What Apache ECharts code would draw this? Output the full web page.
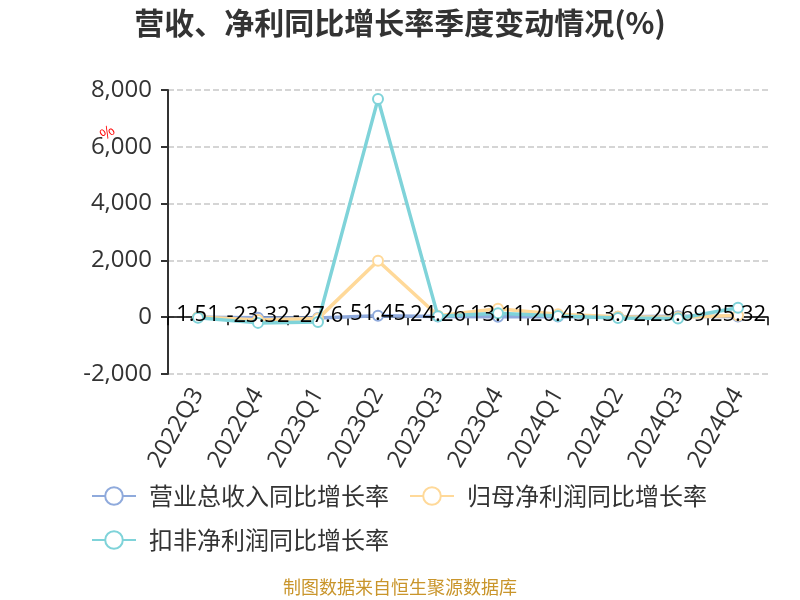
<!DOCTYPE html>
<html><head><meta charset="utf-8">
<script src="https://cdn.jsdelivr.net/npm/echarts@6/dist/echarts.min.js"></script>
<style>html,body{margin:0;padding:0;background:#fff}#c{width:800px;height:600px}</style>
</head><body><div id="c"></div>
<script>
const categories = ['2022Q3','2022Q4','2023Q1','2023Q2','2023Q3','2023Q4','2024Q1','2024Q2','2024Q3','2024Q4'];
const revenueGrowth = [1.51,-23.32,-27.6,51.45,24.26,13.11,20.43,13.72,29.69,25.32];
const netProfitGrowth = [10,-100,-50,1990,50,300,100,20,0,60];
const deductedProfitGrowth = [-20,-200,-165,7680,30,140,45,-25,-45,330];
const seriesNames = ['营业总收入同比增长率','归母净利润同比增长率','扣非净利润同比增长率'];
const yTicks = {min:-2000,max:8000,interval:2000};

const colors = ['#8FAADC','#FFD999','#7FD3D9'];
const font = '"Noto Sans CJK SC","Noto Sans",sans-serif';
const chart = echarts.init(document.getElementById('c'));
function mk(name, data, i, z){
  return {
    name, type:'line', data, symbol:'emptyCircle', symbolSize:10,
    lineStyle:{width:3.5,color:colors[i]}, itemStyle:{color:colors[i],borderWidth:2.5},
    label:{show:false}, z
  };
}
chart.setOption({
  animation:false,
  textStyle:{fontFamily:font},
  title:{text:'营收、净利同比增长率季度变动情况(%)',left:'center',top:3,
    textStyle:{fontSize:30,fontWeight:'bold',color:'#333',fontFamily:font}},
  grid:{left:168,right:32,top:90,bottom:226,containLabel:false},
  xAxis:{type:'category',data:categories,boundaryGap:true,
    axisLine:{onZero:true,lineStyle:{color:'#000',width:1.5}},
    axisTick:{show:true,alignWithLabel:false,lineStyle:{color:'#000',width:1.5},length:8},
    axisLabel:{rotate:60,fontSize:24,color:'#333',margin:16,interval:0,fontFamily:'"Open Sans",sans-serif'}},
  yAxis:{type:'value',min:yTicks.min,max:yTicks.max,interval:yTicks.interval,
    axisLine:{show:true,lineStyle:{color:'#333',width:2}},
    axisTick:{show:true,lineStyle:{color:'#333',width:2},length:7},
    axisLabel:{fontSize:24,color:'#333',margin:16,fontFamily:'"Open Sans",sans-serif',formatter:v=>v.toLocaleString('en-US')},
    splitLine:{lineStyle:{type:'dashed',color:'#c8c8c8',width:1.5}}},
  legend:{data:seriesNames,left:86,top:479,width:680,itemWidth:44,itemHeight:22,itemGap:20,
    textStyle:{fontSize:24,color:'#333',padding:[0,0,0,8]}},
  graphic:[
    {type:'text',left:97,top:122,rotation:Math.PI/5,style:{text:'%',fill:'#ff0000',fontSize:15,fontFamily:font}},
    {type:'text',left:'center',top:578,style:{text:'制图数据来自恒生聚源数据库',fill:'#C9952B',fontSize:18,fontFamily:font}}
  ],
  series:[
    mk(seriesNames[0],revenueGrowth,0,2),
    mk(seriesNames[1],netProfitGrowth,1,3),
    mk(seriesNames[2],deductedProfitGrowth,2,4),
    {name:'labels',type:'line',data:revenueGrowth,z:10,symbol:'circle',symbolSize:2,showSymbol:true,silent:true,
     lineStyle:{opacity:0},itemStyle:{color:'rgba(0,0,0,0)'},
     label:{show:true,position:'inside',color:'#000',fontSize:22,fontFamily:'"Open Sans",sans-serif',offset:[0,-2]}}
  ]
});
</script></body></html>
